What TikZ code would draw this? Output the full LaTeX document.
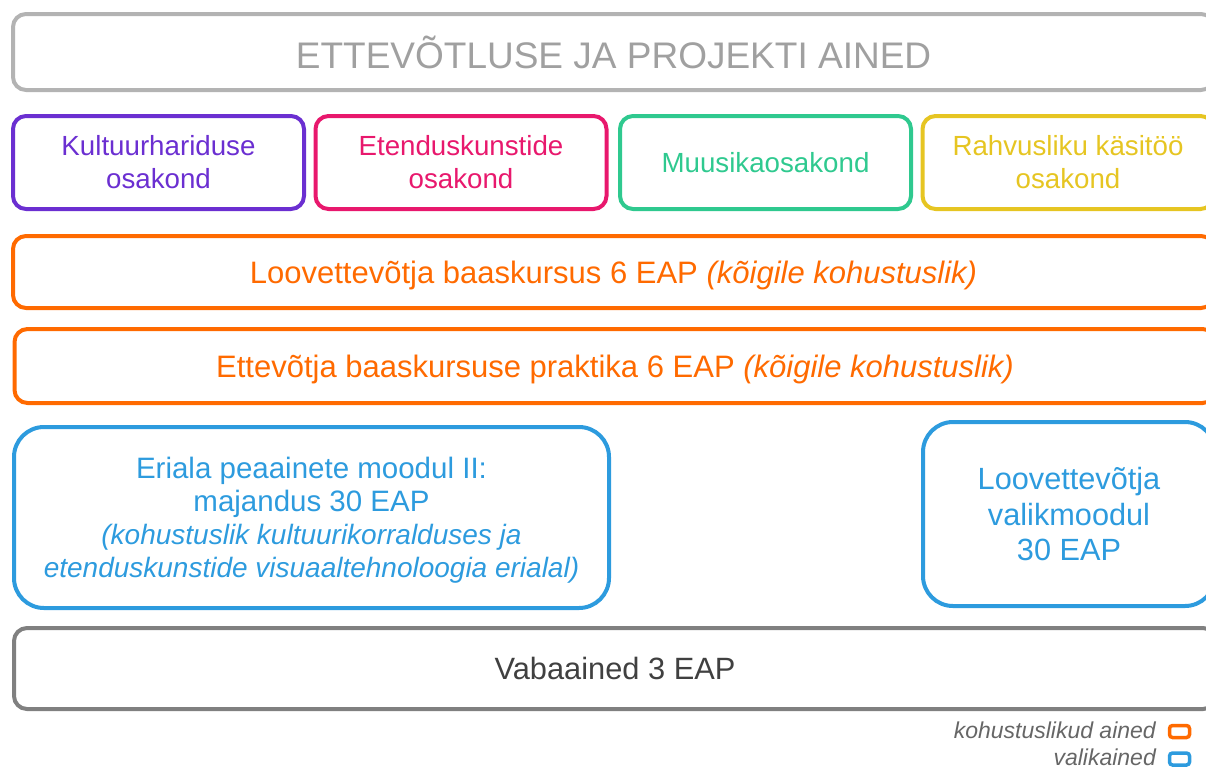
\documentclass[tikz,border=0pt]{standalone}
\usepackage{fontspec}
\setmainfont{Liberation Sans}
\usepackage{xcolor}
\usepackage{tikz}

\definecolor{titlegray}{HTML}{B3B3B3}
\definecolor{titletext}{HTML}{A0A0A0}
\definecolor{kultuur}{HTML}{6B2FD1}
\definecolor{etendus}{HTML}{E8186D}
\definecolor{muusika}{HTML}{2FC98F}
\definecolor{rahvus}{HTML}{E6C522}
\definecolor{kohustus}{HTML}{FF6A00}
\definecolor{valik}{HTML}{2D9BDE}
\definecolor{vabagray}{HTML}{808080}
\definecolor{vabatext}{HTML}{404040}
\definecolor{legendtext}{HTML}{666666}

\newcommand{\markus}[1]{{\fontsize{28}{33}\selectfont\itshape #1}}

\tikzset{
	box/.style={draw,line width=4pt,rounded corners=13pt,align=center,
		inner sep=0pt,font=\fontsize{27.7}{33}\selectfont},
	osakond/.style={box,minimum width=291pt,minimum height=93pt},
	wide/.style={box,minimum width=1201pt,font=\fontsize{31}{35}\selectfont},
	legendbox/.style={draw,line width=3.5pt,rounded corners=3pt,
		minimum width=20pt,minimum height=12pt,inner sep=0pt},
	legendlabel/.style={anchor=east,text=legendtext,inner sep=0pt,
		font=\fontsize{23}{26}\selectfont\itshape}
}

\begin{document}
\begin{tikzpicture}[x=1pt,y=-1pt]
		\clip (0,0) rectangle (1206,769);

		\node[wide,draw=titlegray,text=titletext,minimum height=76pt,
			font=\fontsize{37}{40}\selectfont] at (613.5, 52) (title)
			{ETTEVÕTLUSE JA PROJEKTI AINED};

		\node[osakond,draw=kultuur,text=kultuur] at (158.5, 162.5) (kultuur-osakond)
			{Kultuurhariduse \\ osakond};
		\node[osakond,draw=etendus,text=etendus] at (461, 162.5) (etendus-osakond)
			{Etenduskunstide \\ osakond};
		\node[osakond,draw=muusika,text=muusika] at (765.5, 162.5) (muusika-osakond)
			{Muusikaosakond};
		\node[osakond,draw=rahvus,text=rahvus] at (1068, 162.5) (rahvus-osakond)
			{Rahvusliku käsitöö \\ osakond};

		\node[wide,draw=kohustus,text=kohustus,minimum height=72pt,text depth=-1pt]
			at (613.5, 272) (baaskursus)
			{Loovettevõtja baaskursus 6 EAP \textit{(kõigile kohustuslik)}};
		\node[wide,draw=kohustus,text=kohustus,minimum height=74pt,text depth=-2pt]
			at (615, 366) (praktika)
			{Ettevõtja baaskursuse praktika 6 EAP \textit{(kõigile kohustuslik)}};

		\node[box,draw=valik,text=valik,rounded corners=30pt,minimum width=595pt,
			minimum height=181pt,text depth=-2pt,font=\fontsize{29.5}{33}\selectfont]
			at (311.5, 517.5) (peaaine)
			{Eriala peaainete moodul II: \\
				majandus 30 EAP \\
				\markus{(kohustuslik kultuurikorralduses ja} \\
				\markus{etenduskunstide visuaaltehnoloogia erialal)}};
		\node[box,draw=valik,text=valik,rounded corners=30pt,minimum width=292pt,
			minimum height=184pt,text depth=-5pt,font=\fontsize{30.7}{35.5}\selectfont]
			at (1069, 514) (valikmoodul)
			{Loovettevõtja \\ valikmoodul \\ 30 EAP};

		\node[wide,draw=vabagray,text=vabatext,minimum height=81pt,minimum width=1202pt,
			font=\fontsize{30.8}{35}\selectfont] at (615, 668.5) (vabaained)
			{Vabaained 3 EAP};

		\node[legendbox,draw=kohustus] at (1179.5, 731.5) (kohustus-box) {};
		\node[legendbox,draw=valik] at (1179.5, 759) (valik-box) {};
		\node[legendlabel] at (1156, 730.5) (kohustus-label) {kohustuslikud ained};
		\node[legendlabel] at (1156, 757.5) (valik-label) {valikained};
	\end{tikzpicture}
\end{document}
